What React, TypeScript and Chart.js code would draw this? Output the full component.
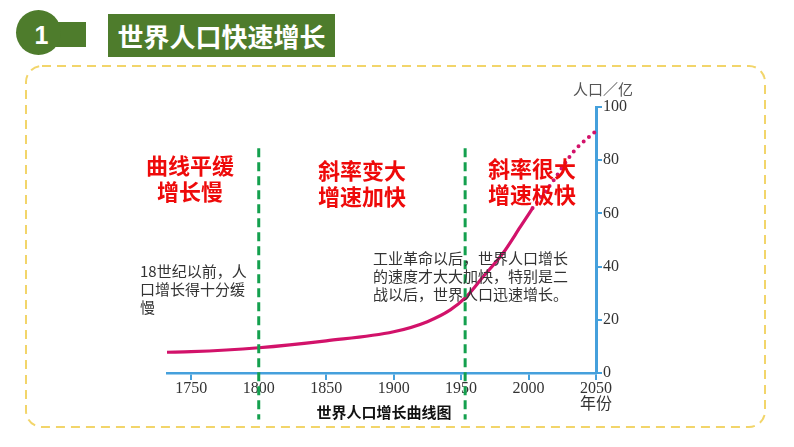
import React, { useEffect, useRef } from "react";
import { Chart, registerables } from "chart.js";

Chart.register(...registerables);

// ---- data ----
const years = [1732, 1750, 1800, 1850, 1900, 1925, 1942, 1953, 1966, 1981, 1994, 2003];
const population = [7.8, 8.0, 9.5, 12.1, 15.5, 19.3, 23.7, 28.2, 36, 45, 55, 62];
const forecastYears = [2003, 2018, 2033, 2050];
const forecastPopulation = [62, 72, 83, 91];
const xTickYears = [1750, 1800, 1850, 1900, 1950, 2000, 2050];
const yTickValues = [0, 20, 40, 60, 80, 100];
const stageDividerYears = [1800, 1953];
const dividerSpan = [84.5, -17.5];

const BLUE = "#45a0dc";
const PINK = "#d2126a";
const GREEN = "#14a04e";
const SERIF = "'Liberation Serif', 'Times New Roman', 'Noto Sans CJK SC', serif";
const SANS = "'Noto Sans CJK SC', 'Noto Sans', sans-serif";

export default function App() {
  const ref = useRef<HTMLCanvasElement | null>(null);

  useEffect(() => {
    if (!ref.current) return;
    const dividerSets = stageDividerYears.map((yr) => ({
      type: "line" as const,
      data: dividerSpan.map((v) => ({ x: yr, y: v })),
      borderColor: GREEN,
      borderWidth: 3,
      borderDash: [9, 5],
      pointRadius: 0,
      clip: false as any,
      order: 0,
    }));
    const chart = new Chart(ref.current, {
      type: "line",
      data: {
        datasets: [
          ...dividerSets,
          {
            data: years.map((y, i) => ({ x: y, y: population[i] })),
            borderColor: PINK,
            borderWidth: 3.2,
            pointRadius: 0,
            cubicInterpolationMode: "monotone",
            clip: false as any,
            order: 1,
          },
          {
            data: forecastYears.map((y, i) => ({ x: y, y: forecastPopulation[i] })),
            borderColor: PINK,
            borderWidth: 4,
            borderDash: [0, 7],
            borderCapStyle: "round",
            pointRadius: 0,
            cubicInterpolationMode: "monotone",
            clip: false as any,
            order: 1,
          },
        ],
      },
      options: {
        responsive: false,
        animation: false,
        devicePixelRatio: 1,
        layout: { padding: { left: 167, top: 107, right: 158, bottom: 24 } },
        plugins: { legend: { display: false }, tooltip: { enabled: false } },
        scales: {
          x: {
            type: "linear",
            min: 1732,
            max: 2050,
            afterBuildTicks: (s: any) => {
              s.ticks = xTickYears.map((v) => ({ value: v }));
            },
            afterFit: (s: any) => {
              s.height = 50;
              s.paddingLeft = 0;
              s.paddingRight = 0;
            },
            border: { display: true, color: BLUE, width: 2.5 },
            grid: {
              drawOnChartArea: false,
              drawTicks: true,
              tickLength: 7,
              color: BLUE,
              lineWidth: 2,
            },
            ticks: {
              autoSkip: false,
              maxRotation: 0,
              padding: 1,
              color: "#333",
              font: { family: SERIF, size: 16, lineHeight: 1 },
              callback: (v: any) => (Number(v) === 2050 ? ["2050", "年份"] : String(v)),
            },
          },
          y: {
            type: "linear",
            position: "right",
            min: 0,
            max: 100,
            afterBuildTicks: (s: any) => {
              s.ticks = yTickValues.map((v) => ({ value: v }));
            },
            afterFit: (s: any) => {
              s.width = 40;
              s.paddingTop = 0;
              s.paddingBottom = 0;
            },
            border: { display: true, color: BLUE, width: 3 },
            grid: {
              drawOnChartArea: false,
              drawTicks: true,
              tickLength: 6,
              color: BLUE,
              lineWidth: 2,
            },
            ticks: {
              padding: 1,
              color: "#333",
              font: { family: SERIF, size: 16, lineHeight: 1 },
              callback: (v: any) => String(v),
            },
          },
        },
      },
    });
    return () => chart.destroy();
  }, []);

  const abs = (s: React.CSSProperties): React.CSSProperties => ({ position: "absolute", ...s });
  const red: React.CSSProperties = {
    fontFamily: SANS,
    fontWeight: 700,
    fontSize: 22,
    lineHeight: "26px",
    color: "#ee0a0a",
    textAlign: "center",
    whiteSpace: "nowrap",
    transform: "translateX(-50%)",
  };
  const note: React.CSSProperties = {
    fontFamily: SANS,
    fontSize: 15,
    lineHeight: "18px",
    color: "#333",
    whiteSpace: "nowrap",
  };

  return (
    <div
      style={{
        position: "fixed",
        left: 0,
        top: 0,
        width: 794,
        height: 447,
        background: "#fff",
        overflow: "hidden",
      }}
    >
      {/* header */}
      <div style={abs({ left: 50, top: 22, width: 36, height: 25, background: "#4e7c2c" })} />
      <div
        style={abs({
          left: 16,
          top: 10,
          width: 45,
          height: 45,
          borderRadius: "50%",
          background: "#4e7c2c",
          color: "#fff",
          fontFamily: "'Liberation Sans', Arial, sans-serif",
          fontWeight: 700,
          fontSize: 25,
          lineHeight: "45px",
          textAlign: "center",
        })}
      >
        <span style={{ position: "relative", left: 3, top: 3 }}>1</span>
      </div>
      <div
        style={abs({
          left: 108,
          top: 14,
          width: 227,
          height: 43,
          background: "#4e7c2c",
          color: "#fff",
          fontFamily: SANS,
          fontWeight: 700,
          fontSize: 26,
          lineHeight: "43px",
          textAlign: "center",
          whiteSpace: "nowrap",
        })}
      >
        世界人口快速增长
      </div>

      {/* dashed frame */}
      <svg width={794} height={447} style={abs({ left: 0, top: 0 })}>
        <rect
          x={26}
          y={66}
          width={739}
          height={361}
          rx={16}
          ry={16}
          fill="none"
          stroke="#f2d56a"
          strokeWidth={2}
          strokeDasharray="9 6"
        />
      </svg>

      <canvas ref={ref} width={794} height={447} style={abs({ left: 0, top: 0, width: 794, height: 447 })} />

      {/* labels */}
      <div style={abs({ left: 190, top: 151, ...red })}>
        曲线平缓
        <br />
        增长慢
      </div>
      <div style={abs({ left: 362, top: 156, ...red })}>
        斜率变大
        <br />
        增速加快
      </div>
      <div style={abs({ left: 532, top: 154, ...red })}>
        斜率很大
        <br />
        增速极快
      </div>

      <div style={abs({ left: 140, top: 262, ...note })}>
        18世纪以前，人
        <br />
        口增长得十分缓
        <br />慢
      </div>
      <div style={abs({ left: 373, top: 249, ...note })}>
        工业革命以后，世界人口增长
        <br />
        的速度才大大加快，特别是二
        <br />
        战以后，世界人口迅速增长。
      </div>

      <div
        style={abs({
          left: 384,
          top: 402,
          transform: "translateX(-50%)",
          fontFamily: SANS,
          fontWeight: 700,
          fontSize: 15,
          lineHeight: "20px",
          color: "#111",
          whiteSpace: "nowrap",
        })}
      >
        世界人口增长曲线图
      </div>

      <div
        style={abs({
          left: 573,
          top: 79,
          fontFamily: SANS,
          fontSize: 15,
          lineHeight: "20px",
          color: "#555",
          whiteSpace: "nowrap",
        })}
      >
        人口／亿
      </div>
    </div>
  );
}
